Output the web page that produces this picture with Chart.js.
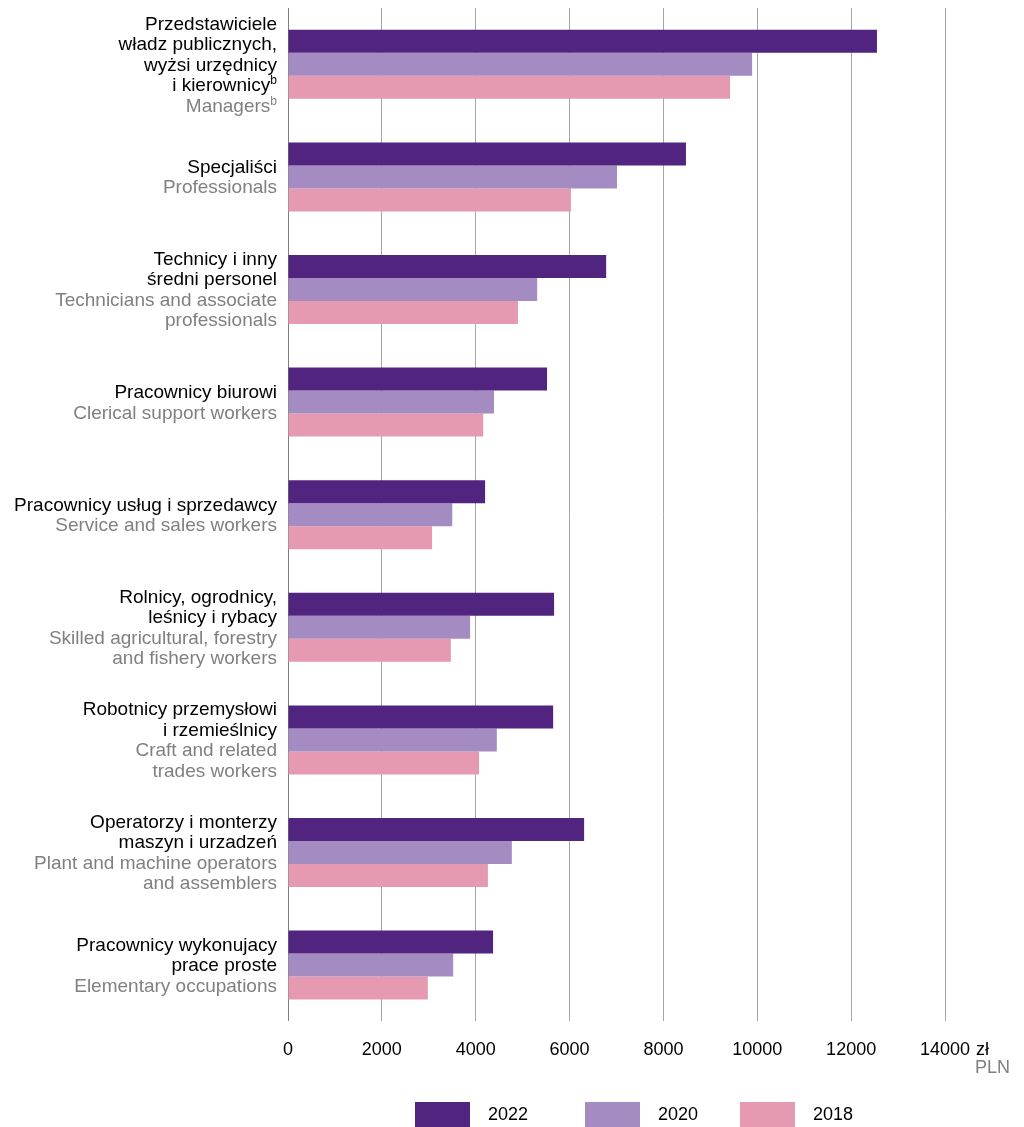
<!DOCTYPE html>
<html>
<head>
  <title>Wynagrodzenia wg grup zawodów</title>
  <script src="https://cdn.jsdelivr.net/npm/chart.js"></script>
  <style>
    body { margin: 0; background: #fff; }
  </style>
</head>
<body>
  <canvas id="salaryChart" width="1024" height="1127"></canvas>

  <script>
    // Data (PLN)
    const years = ['2022', '2020', '2018'];
    const values2022 = [12550, 8480, 6780, 5520, 4200, 5670, 5650, 6310, 4370];
    const values2020 = [9890, 7010, 5310, 4390, 3500, 3880, 4450, 4770, 3520];
    const values2018 = [9420, 6030, 4900, 4160, 3070, 3470, 4070, 4260, 2980];

    // Category labels: Polish lines (black) and English lines (grey); "^b" = superscript b
    const labelsPl = [
      ['Przedstawiciele', 'władz publicznych,', 'wyżsi urzędnicy', 'i kierownicy^b'],
      ['Specjaliści'],
      ['Technicy i inny', 'średni personel'],
      ['Pracownicy biurowi'],
      ['Pracownicy usług i sprzedawcy'],
      ['Rolnicy, ogrodnicy,', 'leśnicy i rybacy'],
      ['Robotnicy przemysłowi', 'i rzemieślnicy'],
      ['Operatorzy i monterzy', 'maszyn i urzadzeń'],
      ['Pracownicy wykonujacy', 'prace proste']
    ];
    const labelsEn = [
      ['Managers^b'],
      ['Professionals'],
      ['Technicians and associate', 'professionals'],
      ['Clerical support workers'],
      ['Service and sales workers'],
      ['Skilled agricultural, forestry', 'and fishery workers'],
      ['Craft and related', 'trades workers'],
      ['Plant and machine operators', 'and assemblers'],
      ['Elementary occupations']
    ];
    const xTicks = [0, 2000, 4000, 6000, 8000, 10000, 12000, 14000];

    const colors = ['#512480', '#a48bc1', '#e69ab1'];
    const FONT = '"Liberation Sans", Arial, sans-serif';
    const LINE_H = 20.5;

    // draws one right-aligned label line, handling a trailing superscript "b"
    function drawLine(ctx, text, x, y, color) {
      ctx.fillStyle = color;
      if (text.endsWith('^b')) {
        ctx.font = '12px ' + FONT;
        const sw = ctx.measureText('b').width;
        ctx.fillText('b', x, y - 5);
        ctx.font = '19px ' + FONT;
        ctx.fillText(text.slice(0, -2), x - sw, y);
      } else {
        ctx.font = '19px ' + FONT;
        ctx.fillText(text, x, y);
      }
    }

    const categoryLabels = {
      id: 'categoryLabels',
      afterDraw(chart) {
        const ctx = chart.ctx;
        const yScale = chart.scales.y;
        const right = chart.chartArea.left - 11;
        ctx.save();
        ctx.textAlign = 'right';
        ctx.textBaseline = 'middle';
        labelsPl.forEach((pl, i) => {
          const lines = pl.map(t => [t, '#000000'])
            .concat(labelsEn[i].map(t => [t, '#808080']));
          const cy = yScale.getPixelForValue(i) + 1;
          const top = cy - (lines.length - 1) * LINE_H / 2;
          lines.forEach(([t, c], k) => drawLine(ctx, t, right, top + k * LINE_H, c));
        });
        ctx.restore();
      }
    };

    // unit next to the last tick and the legend along the bottom
    const extras = {
      id: 'extras',
      afterDraw(chart) {
        const ctx = chart.ctx;
        const xScale = chart.scales.x;
        ctx.save();
        ctx.font = '18px ' + FONT;
        ctx.textBaseline = 'middle';
        ctx.textAlign = 'left';
        const lastX = xScale.getPixelForValue(xTicks[xTicks.length - 1]);
        const half = ctx.measureText(String(xTicks[xTicks.length - 1])).width / 2;
        const ty = chart.chartArea.bottom + 29;
        ctx.fillStyle = '#000';
        ctx.fillText('zł', lastX + half + 6, ty);
        ctx.fillStyle = '#808080';
        ctx.fillText('PLN', lastX + half + 5, ty + 18);

        // legend
        const legendX = [415, 585, 740];
        chart.data.datasets.forEach((ds, i) => {
          ctx.fillStyle = ds.backgroundColor;
          ctx.fillRect(legendX[i], 1102, 55, 25);
          ctx.fillStyle = '#000';
          ctx.fillText(ds.label, legendX[i] + 73, 1115);
        });
        ctx.restore();
      }
    };

    new Chart(document.getElementById('salaryChart'), {
      type: 'bar',
      data: {
        labels: labelsPl.map(l => l.join(' ')),
        datasets: [
          { label: years[0], data: values2022, backgroundColor: colors[0] },
          { label: years[1], data: values2020, backgroundColor: colors[1] },
          { label: years[2], data: values2018, backgroundColor: colors[2] }
        ].map(ds => Object.assign(ds, {
          borderWidth: 0,
          barPercentage: 1,
          categoryPercentage: 0.613
        }))
      },
      options: {
        indexAxis: 'y',
        responsive: false,
        animation: false,
        layout: { padding: { top: 8, right: 79, bottom: 48, left: 0 } },
        scales: {
          x: {
            min: 0,
            max: 14000,
            afterBuildTicks: scale => { scale.ticks = xTicks.map(v => ({ value: v })); },
            ticks: {
              callback: v => String(v),
              color: '#000',
              padding: 18,
              maxRotation: 0,
              font: { family: FONT, size: 18 }
            },
            grid: {
              drawTicks: false,
              color: c => (c.tick && c.tick.value === 0) ? '#7f7f7f' : '#a6a6a6'
            },
            border: { display: false }
          },
          y: {
            ticks: { display: false },
            grid: { display: false },
            border: { display: false },
            afterFit: scale => { scale.width = 288; }
          }
        },
        plugins: {
          legend: { display: false },
          tooltip: { enabled: false }
        }
      },
      plugins: [categoryLabels, extras]
    });
  </script>
</body>
</html>
